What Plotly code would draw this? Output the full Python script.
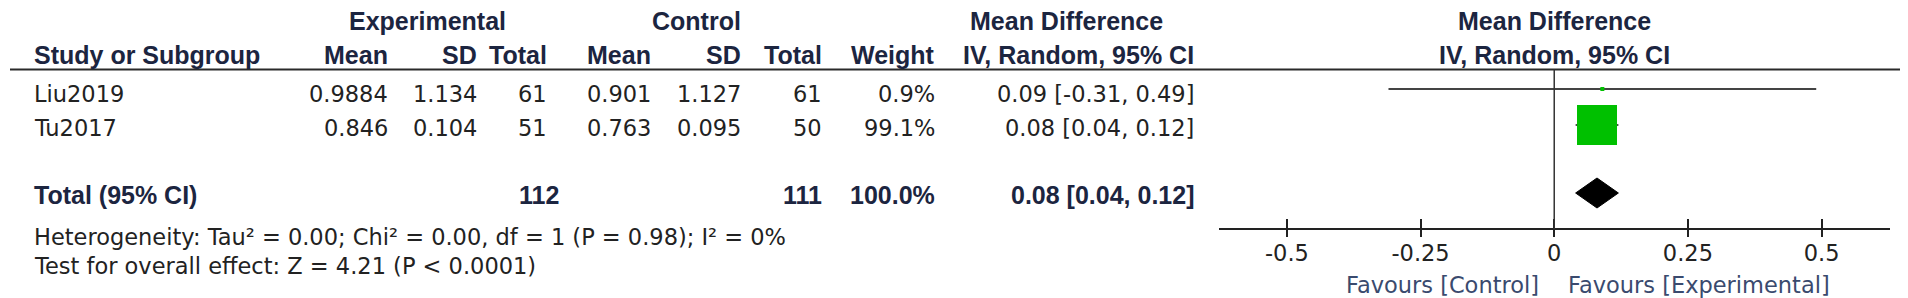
import plotly.graph_objects as go

# ---------------- data ----------------
studies = ["Liu2019", "Tu2017"]
exp_mean = [0.9884, 0.846]
exp_sd = [1.134, 0.104]
exp_n = [61, 51]
ctl_mean = [0.901, 0.763]
ctl_sd = [1.127, 0.095]
ctl_n = [61, 50]
weights = [0.9, 99.1]
md = [0.09, 0.08]
ci_lo = [-0.31, 0.04]
ci_hi = [0.49, 0.12]

total_label = "Total (95% CI)"
total_exp_n = 112
total_ctl_n = 111
total_weight = 100.0
total_md = 0.08
total_lo = 0.04
total_hi = 0.12

heterogeneity = "Heterogeneity: Tau² = 0.00; Chi² = 0.00, df = 1 (P = 0.98); I² = 0%"
overall = "Test for overall effect: Z = 4.21 (P < 0.0001)"

tick_vals = [-0.5, -0.25, 0, 0.25, 0.5]
tick_text = ["-0.5", "-0.25", "0", "0.25", "0.5"]
favours_left = "Favours [Control]"
favours_right = "Favours [Experimental]"

# ---------------- layout constants ----------------
W, H = 1908, 298
REG = "DejaVu Sans, Liberation Sans, Arial, sans-serif"
BOLD = "Liberation Sans, Arial, sans-serif"
REG_SIZE = 22.5
BOLD_SIZE = 25
TXT = "#222222"
HDR = "#1c2540"
FAV = "#3a4a6e"
GREEN = "#00c000"

row_text_y = [86, 120]
row_mark_y = [81, 117]
total_y = 187
het_y = 229
test_y = 258
hdr1_y = 13
hdr2_y = 47
rule_y = 61.5
axis_y = 221

col_right = {
    "exp_mean": 382, "exp_sd": 471, "exp_n": 541,
    "ctl_mean": 645, "ctl_sd": 735, "ctl_n": 816,
    "weight": 929, "md": 1188,
}
name_x = 24

x_dom = [1211 / W, 1882 / W]
x_rng = [-0.627, 0.628]


def px(x):
    return x / W


fig = go.Figure()
annotations = []


def add_text(x, y, text, anchor="right", bold=False, color=TXT, size=None):
    annotations.append(dict(
        x=px(x), y=y, xref="paper", yref="y", text=text, showarrow=False,
        xanchor=anchor, yanchor="middle",
        font=dict(family=BOLD if bold else REG,
                  size=size or (BOLD_SIZE if bold else REG_SIZE),
                  color=color, weight="bold" if bold else "normal"),
    ))


# headers
add_text(419, hdr1_y, "Experimental", "center", True, HDR)
add_text(688, hdr1_y, "Control", "center", True, HDR)
add_text(1058, hdr1_y, "Mean Difference", "center", True, HDR)
add_text(1546, hdr1_y, "Mean Difference", "center", True, HDR)
add_text(name_x, hdr2_y, "Study or Subgroup", "left", True, HDR)
add_text(col_right["exp_mean"], hdr2_y, "Mean", "right", True, HDR)
add_text(col_right["exp_sd"], hdr2_y, "SD", "right", True, HDR)
add_text(col_right["exp_n"], hdr2_y, "Total", "right", True, HDR)
add_text(col_right["ctl_mean"], hdr2_y, "Mean", "right", True, HDR)
add_text(col_right["ctl_sd"], hdr2_y, "SD", "right", True, HDR)
add_text(col_right["ctl_n"], hdr2_y, "Total", "right", True, HDR)
add_text(col_right["weight"], hdr2_y, "Weight", "right", True, HDR)
add_text(col_right["md"], hdr2_y, "IV, Random, 95% CI", "right", True, HDR)
add_text(1546, hdr2_y, "IV, Random, 95% CI", "center", True, HDR)

# study rows
for i, s in enumerate(studies):
    y = row_text_y[i]
    add_text(name_x, y, s, "left")
    add_text(col_right["exp_mean"], y, str(exp_mean[i]))
    add_text(col_right["exp_sd"], y, str(exp_sd[i]))
    add_text(col_right["exp_n"], y, str(exp_n[i]))
    add_text(col_right["ctl_mean"], y, str(ctl_mean[i]))
    add_text(col_right["ctl_sd"], y, str(ctl_sd[i]))
    add_text(col_right["ctl_n"], y, str(ctl_n[i]))
    add_text(col_right["weight"], y, f"{weights[i]:.1f}%")
    add_text(col_right["md"], y, f"{md[i]:.2f} [{ci_lo[i]:.2f}, {ci_hi[i]:.2f}]")

# total row
add_text(name_x, total_y, total_label, "left", True, HDR)
add_text(553, total_y, str(total_exp_n), "right", True, HDR)
add_text(col_right["ctl_n"], total_y, str(total_ctl_n), "right", True, HDR)
add_text(col_right["weight"], total_y, f"{total_weight:.1f}%", "right", True, HDR)
add_text(col_right["md"], total_y,
         f"{total_md:.2f} [{total_lo:.2f}, {total_hi:.2f}]", "right", True, HDR)

add_text(name_x, het_y, heterogeneity, "left")
add_text(name_x, test_y, overall, "left")

# favours labels
add_text(1533, 277, favours_left, "right", color=FAV)
add_text(1558, 277, favours_right, "left", color=FAV)

# ---------------- marks ----------------
max_w = max(weights)
for i in range(len(studies)):
    size = 40 * (weights[i] / max_w) ** 0.5
    fig.add_trace(go.Scatter(
        x=[md[i]], y=[row_mark_y[i]], mode="markers",
        marker=dict(symbol="square", size=max(size, 4), color=GREEN,
                    line=dict(width=0)),
        error_x=dict(type="data", symmetric=False,
                     array=[ci_hi[i] - md[i]], arrayminus=[md[i] - ci_lo[i]],
                     color="#444444" if i == 0 else "#111111",
                     thickness=2 if i == 0 else 1.5, width=0),
        showlegend=False, hoverinfo="skip",
    ))

# diamond for pooled estimate
fig.add_trace(go.Scatter(
    x=[total_lo, total_md, total_hi, total_md, total_lo],
    y=[total_y - 2, total_y - 17, total_y - 2, total_y + 13, total_y - 2],
    mode="lines", fill="toself", fillcolor="#000000",
    line=dict(color="#000000", width=1),
    showlegend=False, hoverinfo="skip",
))

# secondary axis carrying the outside part of the ticks
fig.add_trace(go.Scatter(x=[0], y=[0], xaxis="x2", yaxis="y",
                         mode="markers", marker=dict(opacity=0),
                         showlegend=False, hoverinfo="skip"))

shapes = [
    dict(type="line", xref="paper", yref="y", x0=px(2), x1=px(1905),
         y0=rule_y, y1=rule_y, line=dict(color="#2a2a2a", width=2)),
    dict(type="line", xref="x", yref="y", x0=0, x1=0, y0=rule_y, y1=axis_y,
         line=dict(color="#333333", width=1.5)),
]

axis_pos = (H - axis_y) / H
fig.update_layout(
    width=W, height=H, autosize=False,
    margin=dict(l=0, r=0, t=0, b=0, pad=0),
    paper_bgcolor="white", plot_bgcolor="white",
    annotations=annotations, shapes=shapes,
    xaxis=dict(domain=x_dom, range=x_rng, anchor="free", position=axis_pos,
               tickvals=tick_vals, ticktext=tick_text,
               showline=True, linecolor="#222222", linewidth=2,
               ticks="inside", ticklen=9, tickwidth=2, tickcolor="#222222",
               ticklabelstandoff=4,
               tickfont=dict(family=REG, size=REG_SIZE, color=TXT),
               showgrid=False, zeroline=False, fixedrange=True),
    xaxis2=dict(domain=x_dom, range=x_rng, anchor="free", position=axis_pos,
                overlaying="x", tickvals=tick_vals, showticklabels=False,
                showline=False, ticks="outside", ticklen=7, tickwidth=2,
                tickcolor="#222222", showgrid=False, zeroline=False),
    yaxis=dict(domain=[0, 1], range=[H, 0], visible=False, anchor="free",
               position=0, fixedrange=True),
)

fig.write_html("out.html")
